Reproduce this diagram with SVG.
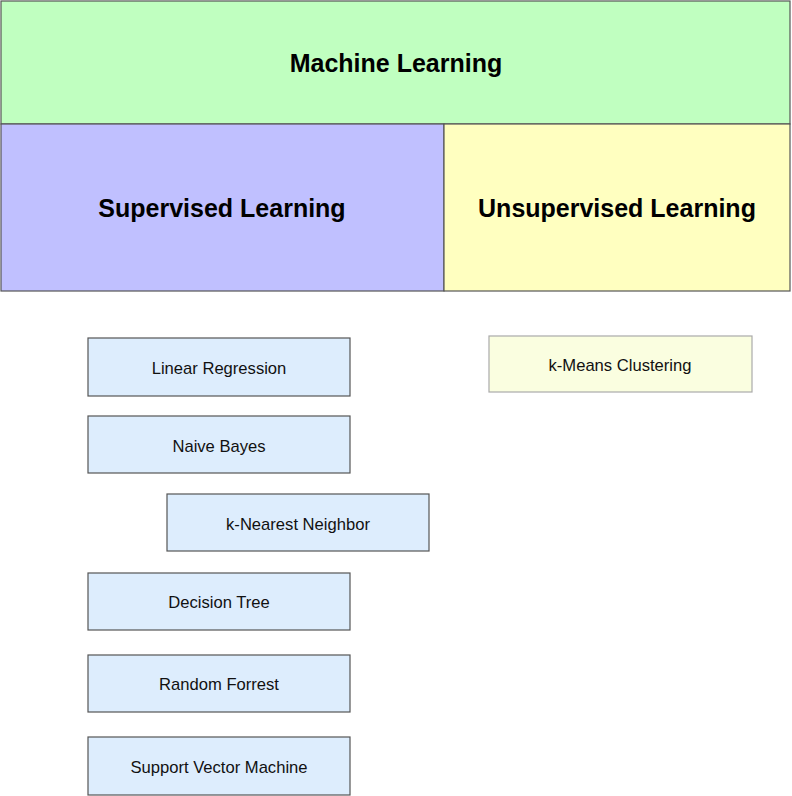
<svg xmlns="http://www.w3.org/2000/svg" width="792" height="796" viewBox="0 0 792 796">
<style>
.big{font-family:"Liberation Sans",Arial,sans-serif;font-weight:bold;font-size:25px;fill:#000;text-anchor:middle}
.lbl{font-family:"Liberation Sans",Arial,sans-serif;font-size:16.6px;fill:#111;text-anchor:middle}
.sup rect{fill:#ddedfd;stroke:#555;stroke-width:1.2}
.area{stroke:#555;stroke-width:1.2}
</style>
<rect width="792" height="796" fill="#fff"/>
<g id="machine-learning">
<rect class="area" x="1" y="1" width="789" height="123" fill="#c0ffc0"/>
<text class="big" x="396" y="72">Machine Learning</text>
</g>
<g id="supervised-learning">
<rect class="area" x="1" y="124" width="443" height="167" fill="#c0c0ff"/>
<text class="big" x="222" y="217">Supervised Learning</text>
</g>
<g id="unsupervised-learning">
<rect class="area" x="444" y="124" width="346" height="167" fill="#ffffc0"/>
<text class="big" x="617" y="217">Unsupervised Learning</text>
</g>
<g id="linear-regression" class="sup">
<rect x="88" y="338" width="262" height="58"/>
<text class="lbl" x="219" y="374">Linear Regression</text>
</g>
<g id="naive-bayes" class="sup">
<rect x="88" y="416" width="262" height="57"/>
<text class="lbl" x="219" y="452">Naive Bayes</text>
</g>
<g id="knn" class="sup">
<rect x="167" y="494" width="262" height="57"/>
<text class="lbl" x="298" y="530">k-Nearest Neighbor</text>
</g>
<g id="decision-tree" class="sup">
<rect x="88" y="573" width="262" height="57"/>
<text class="lbl" x="219" y="608">Decision Tree</text>
</g>
<g id="random-forrest" class="sup">
<rect x="88" y="655" width="262" height="57"/>
<text class="lbl" x="219" y="690">Random Forrest</text>
</g>
<g id="svm" class="sup">
<rect x="88" y="737" width="262" height="58"/>
<text class="lbl" x="219" y="773">Support Vector Machine</text>
</g>
<g id="k-means">
<rect x="489" y="336" width="263" height="56" fill="#fafee0" stroke="#aaa" stroke-width="1.2"/>
<text class="lbl" x="620" y="371">k-Means Clustering</text>
</g>
<g id="connectors"></g>
</svg>
